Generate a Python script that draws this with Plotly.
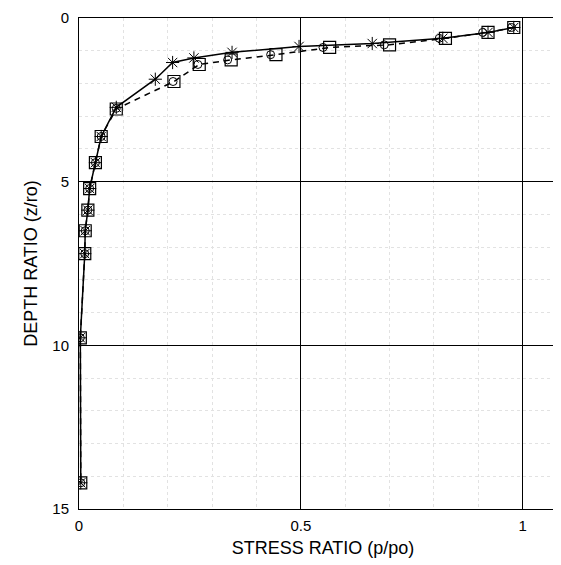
import plotly.graph_objects as go

# Series values (x = stress ratio p/po, y = depth ratio z/ro)
ast_x = [0.98, 0.922, 0.82, 0.661, 0.496, 0.345, 0.259, 0.211, 0.172, 0.084, 0.05, 0.037, 0.024, 0.020, 0.014, 0.013, 0.003, 0.004]
ast_y = [0.29, 0.44, 0.62, 0.78, 0.87, 1.05, 1.22, 1.36, 1.87, 2.73, 3.62, 4.42, 5.21, 5.87, 6.50, 7.20, 9.77, 14.20]

sq_x = [0.98, 0.922, 0.826, 0.70, 0.565, 0.444, 0.343, 0.271, 0.214, 0.084, 0.05, 0.037, 0.024, 0.020, 0.014, 0.013, 0.003, 0.004]
sq_y = [0.29, 0.44, 0.62, 0.82, 0.90, 1.12, 1.28, 1.42, 1.94, 2.78, 3.62, 4.42, 5.21, 5.87, 6.50, 7.20, 9.77, 14.20]

ci_x = [0.975, 0.91, 0.812, 0.688, 0.55, 0.432, 0.335, 0.268, 0.212, 0.084, 0.05, 0.037, 0.024, 0.020, 0.014, 0.013, 0.003, 0.004]
ci_y = [0.29, 0.44, 0.62, 0.82, 0.90, 1.12, 1.28, 1.42, 1.94, 2.76, 3.62, 4.42, 5.21, 5.87, 6.50, 7.20, 9.77, 14.20]

x_ticks = [0, 0.5, 1]
x_tick_labels = ["0", "0.5", "1"]
y_ticks = [0, 5, 10, 15]
y_tick_labels = ["0", "5", "10", "15"]

FONT = "Liberation Sans, Arial, sans-serif"

fig = go.Figure()
fig.add_trace(go.Scatter(
    x=sq_x, y=sq_y, mode="lines+markers",
    line=dict(color="black", width=1.5, dash="6px,5px"),
    marker=dict(symbol="square-open", size=12, color="black", line=dict(width=1.2)),
    showlegend=False))
fig.add_trace(go.Scatter(
    x=ci_x, y=ci_y, mode="markers",
    marker=dict(symbol="circle-open", size=8, color="black", line=dict(width=1)),
    showlegend=False))
fig.add_trace(go.Scatter(
    x=ast_x, y=ast_y, mode="lines+markers",
    line=dict(color="black", width=1.5),
    marker=dict(symbol="asterisk-open", size=11, color="black", line=dict(width=1, color="black")),
    showlegend=False))

fig.update_layout(
    width=561, height=565,
    margin=dict(l=71, r=2, t=10, b=64),
    paper_bgcolor="white", plot_bgcolor="white",
    font=dict(family=FONT, size=15, color="black"),
)
fig.update_xaxes(
    range=[0, 1.1], tickvals=x_ticks, ticktext=x_tick_labels,
    showline=True, linecolor="black", linewidth=1, mirror=True,
    showgrid=True, gridcolor="black", gridwidth=1, zeroline=False,
    ticks="outside", ticklen=3, tickcolor="rgba(0,0,0,0)",
    minor=dict(dtick=0.1, showgrid=True, gridcolor="#e2e2e2", griddash="dot", gridwidth=1),
    title=dict(text="STRESS RATIO (p/po)", font=dict(size=18), standoff=8),
)
fig.update_yaxes(
    range=[15, 0], tickvals=y_ticks, ticktext=y_tick_labels,
    showline=True, linecolor="black", linewidth=1, mirror=True,
    showgrid=True, gridcolor="black", gridwidth=1, zeroline=False,
    ticks="outside", ticklen=6, tickcolor="rgba(0,0,0,0)",
    minor=dict(dtick=1, showgrid=True, gridcolor="#e2e2e2", griddash="dot", gridwidth=1),
    title=dict(text="DEPTH RATIO (z/ro)", font=dict(size=18), standoff=10),
)

fig.write_html("out.html")
